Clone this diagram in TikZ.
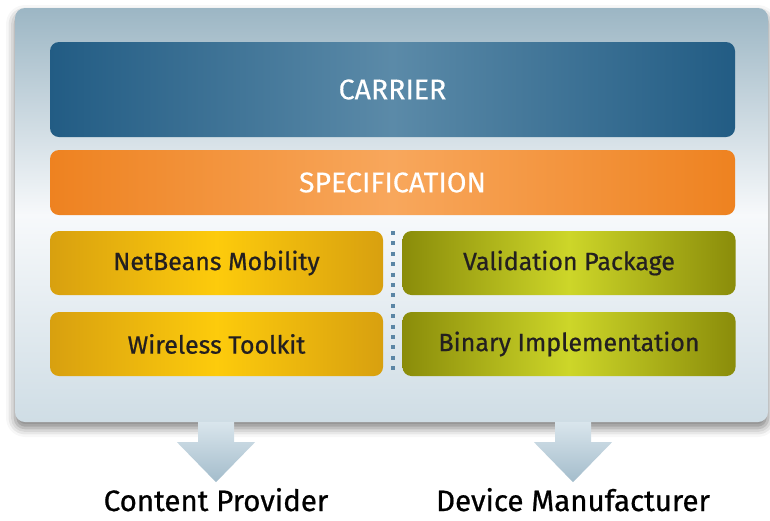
\documentclass[tikz,border=0pt]{standalone}
\usepackage{fontspec}
\setmainfont{Fira Sans}
\newfontfamily\labelfont[FakeBold=0.7]{Fira Sans}
\newfontfamily\barfont[FakeBold=0.3]{Fira Sans}
\usetikzlibrary{shadows.blur}
\definecolor{panelTop}{HTML}{9CB6C4}
\definecolor{panelMid}{HTML}{F7F9FB}
\definecolor{panelBot}{HTML}{CFDDE5}
\definecolor{carEdge}{HTML}{225C84}
\definecolor{carMid}{HTML}{5B8AA8}
\definecolor{specEdge}{HTML}{EE8220}
\definecolor{specMid}{HTML}{F8A75C}
\definecolor{yelEdge}{HTML}{D8A00F}
\definecolor{yelMid}{HTML}{FDCB0C}
\definecolor{oliEdge}{HTML}{8A8C0A}
\definecolor{oliMid}{HTML}{CDD629}
\definecolor{dotCol}{HTML}{5B86A5}
\definecolor{arrTop}{HTML}{D9E5EC}
\definecolor{arrBot}{HTML}{A3BCCB}
\definecolor{txtDark}{HTML}{231F20}
\begin{document}
\begin{tikzpicture}[x=1pt,y=-1pt,
  panel/.style={rounded corners=10pt, minimum width=753pt, minimum height=414pt,
    top color=panelTop, bottom color=panelBot, middle color=panelMid, inner sep=0pt,
    blur shadow={shadow xshift=0pt, shadow yshift=-6pt, shadow blur radius=9pt, shadow opacity=50}},
  bar/.style={rounded corners=9pt, inner sep=0pt, font=\barfont\fontsize{28.5}{32}\selectfont, text=white},
  carrierbox/.style={bar, minimum width=685pt, minimum height=95pt, left color=carEdge, right color=carEdge, middle color=carMid},
  specbox/.style={bar, minimum width=685pt, minimum height=65pt, left color=specEdge, right color=specEdge, middle color=specMid},
  toolbox/.style={rounded corners=9pt, inner sep=0pt, minimum width=333pt, minimum height=64pt,
    font=\labelfont\fontsize{25}{30}\selectfont, text=txtDark},
  yelbox/.style={toolbox, left color=yelEdge, right color=yelEdge, middle color=yelMid},
  olibox/.style={toolbox, left color=oliEdge, right color=oliEdge, middle color=oliMid},
  role/.style={font=\labelfont\fontsize{29.5}{34}\selectfont, text=black, inner sep=0pt, anchor=base},
  downarrow/.pic={\path[top color=arrTop, bottom color=arrBot]
    (-18,0) -- (18,0) -- (18,20) -- (39,20) -- (0,60) -- (-39,20) -- (-18,20) -- cycle;}
]
\useasboundingbox (0,0) rectangle (770,520);
\node[panel] (panel) at (391.5,215) {};
\node[carrierbox] (carrier) at (392.5,89.5) {CARRIER};
\node[specbox] (spec) at (392.5,182.5) {SPECIFICATION};
\node[yelbox] (netbeans) at (216.5,263) {NetBeans Mobility};
\node[yelbox] (wtk) at (216.5,344) {Wireless Toolkit};
\node[olibox] (valid) at (569,263) {Validation Package};
\node[olibox] (binary) at (569,344) {Binary Implementation};
\draw[dotCol, line width=4pt, dash pattern=on 4pt off 6.4pt] (393,231) -- (393,376);
\node[role] (cp) at (216,511) {Content Provider};
\node[role] (dm) at (573,511) {Device Manufacturer};
\pic at (cp |- panel.south) {downarrow};
\pic at (dm |- panel.south) {downarrow};
\end{tikzpicture}
\end{document}
